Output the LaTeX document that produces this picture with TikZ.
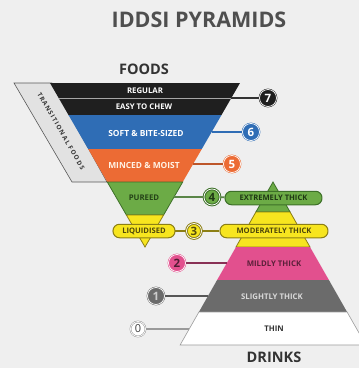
\documentclass[tikz,border=0pt]{standalone}
\usepackage{fontspec}
\setmainfont{PT Sans}
\newfontfamily\titlefont{Open Sans}
\newfontfamily\spacedfont[LetterSpace=18]{Open Sans}
\definecolor{bg}{HTML}{EFEFEF}
\definecolor{cblack}{HTML}{1F1F1F}
\definecolor{cblue}{HTML}{2F6DB5}
\definecolor{corange}{HTML}{EC6B34}
\definecolor{cgreen}{HTML}{6CAB46}
\definecolor{cgreenD}{HTML}{3D7028}
\definecolor{cyellow}{HTML}{F7E51F}
\definecolor{cyellowD}{HTML}{8C7F14}
\definecolor{cpink}{HTML}{E2508E}
\definecolor{cgray}{HTML}{6B6B6B}
\definecolor{cgrayL}{HTML}{9A9A9A}
\definecolor{ctitle}{HTML}{4F4F4F}
\definecolor{ctrans}{HTML}{E2E2E2}
\tikzset{
  badge/.style={circle, minimum size=17pt, inner sep=0pt,
    font=\titlefont\bfseries\fontsize{11.5}{11.5}\selectfont, line width=0.5pt, double distance=0.7pt},
  pill/.style={rounded corners=6.5pt, minimum height=13.5pt, inner sep=1pt, line width=1pt,
    font=\titlefont\bfseries\fontsize{7.6}{7.6}\selectfont},
  bandtxt/.style={inner sep=0pt, font=\titlefont\bfseries\fontsize{7.8}{7.8}\selectfont},
  conn/.style={line width=1.8pt},
  heading/.style={inner sep=0pt, text=ctitle, font=\titlefont\bfseries}
}
\begin{document}
\begin{tikzpicture}[x=1pt,y=-1pt]
\useasboundingbox (0,0) rectangle (359,368);
\clip (0,0) rectangle (359,368);
\fill[bg] (0,0) rectangle (359,368);

% headings
\node[heading, font=\titlefont\bfseries\fontsize{21.5}{21.5}\selectfont] (title) at (199,19.5) {IDDSI PYRAMIDS};
\node[heading, text=black!80, font=\titlefont\bfseries\fontsize{14.5}{14.5}\selectfont] (foods) at (144,69) {FOODS};
\node[heading, text=black!80, font=\titlefont\bfseries\fontsize{14.5}{14.5}\selectfont] (drinks) at (274,357) {DRINKS};

% transitional foods parallelogram
\filldraw[fill=ctrans, draw=black!65, line width=0.6pt] (14,83) -- (52,83) -- (107,182) -- (72,182) -- cycle;
\node[inner sep=0pt, rotate=-60, text=black!80, font=\spacedfont\bfseries\fontsize{6.3}{6.3}\selectfont] (trans) at (61,131) {TRANSITIONAL FOODS};

% foods pyramid
\fill[cblack] (50,83) -- (240,83) -- (221.5,115) -- (68.5,115) -- cycle;
\fill[cblue] (68.5,115) -- (221.5,115) -- (201.8,149) -- (88.2,149) -- cycle;
\fill[corange] (88.2,149) -- (201.8,149) -- (182.7,182) -- (107.3,182) -- cycle;
\filldraw[fill=cgreen, draw=cgreenD, line width=0.8pt] (107.3,182) -- (182.7,182) -- (163.6,215) -- (126.4,215) -- cycle;
\filldraw[fill=cyellow, draw=cyellowD, line width=0.8pt] (126.4,215) -- (163.6,215) -- (145,247) -- cycle;
\draw[black!35, line width=0.8pt] (58.7,98) -- (231.3,98);

% drinks pyramid
\filldraw[fill=cgreen, draw=cgreenD, line width=0.8pt] (273,182) -- (290.1,212) -- (255.9,212) -- cycle;
\filldraw[fill=cyellow, draw=cyellowD, line width=0.8pt] (255.9,212) -- (290.1,212) -- (310,247) -- (236,247) -- cycle;
\fill[cpink] (236,247) -- (310,247) -- (328.9,280) -- (217.1,280) -- cycle;
\fill[cgray] (217.1,280) -- (328.9,280) -- (347.1,312) -- (198.9,312) -- cycle;
\filldraw[fill=white, draw=cgrayL, line width=0.6pt] (198.9,312) -- (347.1,312) -- (365.9,345) -- (180.1,345) -- cycle;

% band labels
\node[bandtxt, text=white] (regular) at (145,90.5) {REGULAR};
\node[bandtxt, text=white] (easy) at (144,107) {EASY TO CHEW};
\node[bandtxt, text=white, font=\titlefont\bfseries\fontsize{8.4}{8.4}\selectfont] (soft) at (146,133) {SOFT \& BITE-SIZED};
\node[bandtxt, text=white!90!orange, font=\titlefont\bfseries\fontsize{8.4}{8.4}\selectfont] (minced) at (144,165) {MINCED \& MOIST};
\node[bandtxt, text=cgreenD!60!black] (pureed) at (144,197.5) {PUREED};
\node[bandtxt, text=cpink!40!black] (mildly) at (274,264) {MILDLY THICK};
\node[bandtxt, text=white!85!black] (slightly) at (272,297) {SLIGHTLY THICK};
\node[bandtxt, text=black!80] (thin) at (274,329) {THIN};

% edge coordinates
\coordinate (e7) at (231.3,98);
\coordinate (e6) at (211.6,132);
\coordinate (e5) at (193,164);
\coordinate (e4) at (174,197);
\coordinate (e2) at (227,263);
\coordinate (e1) at (208,296);
\coordinate (e0) at (189,329);

% badges
\node[badge, draw=cblack, double=white, fill=cblack, text=white] (b7) at (268,98) {7};
\node[badge, draw=cblue, double=white, fill=cblue, text=white] (b6) at (251,132) {6};
\node[badge, draw=corange, double=white, fill=corange, text=white] (b5) at (232,164) {5};
\node[badge, draw=cgreenD, line width=1pt, fill=cgreen, text=cgreenD!50!black, minimum size=16pt] (b4) at (212,197) {4};
\node[badge, draw=cyellowD, line width=1pt, fill=cyellow, text=cyellowD!60!black, minimum size=15pt] (b3) at (194,231) {3};
\node[badge, draw=cpink, double=white, fill=cpink, text=cpink!35!black] (b2) at (177,263) {2};
\node[badge, draw=cgray, double=white, fill=cgray, text=white!80!black] (b1) at (156,296) {1};
\node[badge, draw=cgrayL, double=white, fill=white, text=black!75, minimum size=15pt, font=\titlefont\fontsize{11}{11}\selectfont] (b0) at (138,329) {0};

% pills
\node[pill, fill=cgreen, draw=cgreenD, minimum width=97pt, text=cgreenD!50!black] (ext) at (273.5,198) {EXTREMELY THICK};
\node[pill, fill=cyellow, draw=cyellowD, minimum width=108pt, text=cyellowD!55!black] (mod) at (274,231) {MODERATELY THICK};
\node[pill, fill=cyellow, draw=cyellowD, minimum width=62pt, text=cyellowD!55!black] (liq) at (144,231) {LIQUIDISED};

% connectors
\draw[conn, black!80] (e7) -- (b7);
\draw[conn, cblue] (e6) -- (b6);
\draw[conn, corange!80!black] (e5) -- (b5);
\draw[conn, cgreenD!85] (e4) -- (b4);
\draw[conn, cgreenD!85] (b4) -- (ext);
\draw[conn, cyellowD] (liq) -- (b3);
\draw[conn, cyellowD] (b3) -- (mod);
\draw[conn, cpink!60!black] (b2) -- (e2);
\draw[conn, cgray!80!black] (b1) -- (e1);
\draw[conn, cgrayL] (b0) -- (e0);
\end{tikzpicture}
\end{document}
